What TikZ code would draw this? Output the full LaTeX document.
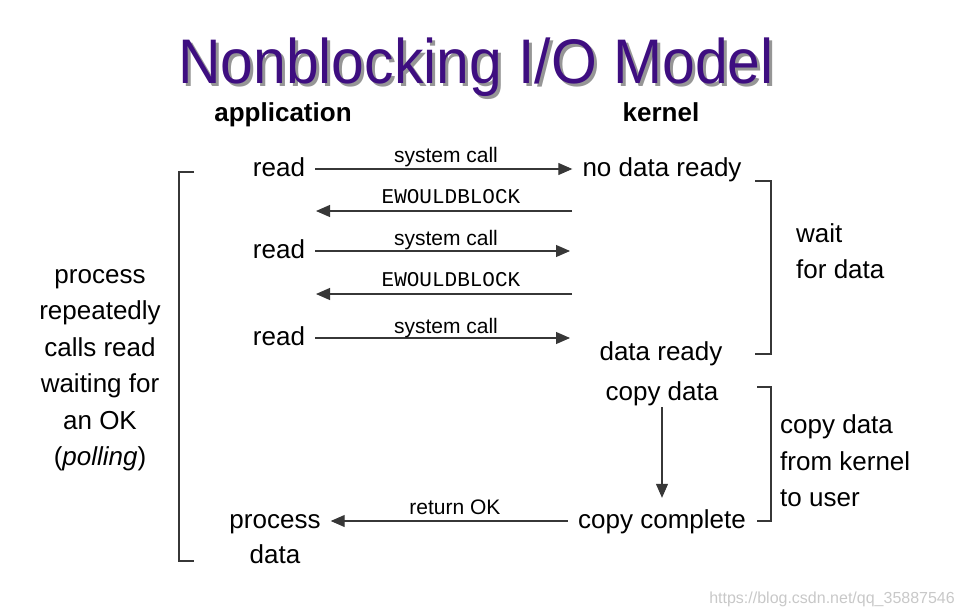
\documentclass[tikz,border=0pt]{standalone}
\usepackage{fontspec}
\setmainfont{Liberation Sans}
\setmonofont{Liberation Mono}
\usetikzlibrary{arrows.meta}
\definecolor{titlepurple}{RGB}{62,14,128}
\definecolor{linegray}{RGB}{55,55,55}
\definecolor{shadowgray}{RGB}{150,150,150}
\definecolor{markgray}{RGB}{200,200,200}
\begin{document}
\begin{tikzpicture}[x=1pt,y=-1pt,
  lbl/.style={font=\fontsize{26}{30}\selectfont, text height=19pt, text depth=5pt, inner xsep=10pt, inner ysep=2pt},
  head/.style={font=\bfseries\fontsize{26}{30}\selectfont, inner sep=0pt, anchor=base},
  small/.style={font=\fontsize{21}{24}\selectfont, inner sep=0pt, anchor=base},
  mono/.style={font=\ttfamily\fontsize{21}{24}\selectfont, inner sep=0pt, anchor=base},
  side/.style={font=\fontsize{26}{36.5}\selectfont, inner sep=0pt},
  titlefont/.style={font=\fontsize{63}{70}\selectfont, inner sep=0pt, anchor=base},
  arr/.style={draw=linegray, line width=1.1pt, -{Triangle[length=14pt,width=12pt]}},
  brk/.style={draw=linegray, line width=1.1pt},
]
\useasboundingbox (0,0) rectangle (964,614);
% title
\node[titlefont, text=shadowgray] (tshadow) at (479,86) {\scalebox{0.935}[1]{Nonblocking I/O Model}};
\node[titlefont, text=titlepurple] (title) at (476,83) {\scalebox{0.935}[1]{Nonblocking I/O Model}};
\node[head] (app) at (283,121) {application};
\node[head] (kern) at (661,121) {kernel};
% application side
\node[lbl] (read1) at (279,169) {read};
\node[lbl] (read2) at (279,251) {read};
\node[lbl] (read3) at (279,338) {read};
\node[lbl] (proc) at (275,521) {process};
\node[lbl] (pdata) at (275,556) {data};
% kernel side
\node[lbl] (ndr) at (662,169) {no data ready};
\node[lbl] (dr) at (661,353) {data ready};
\node[lbl] (cd) at (662,393) {copy data};
\node[lbl] (cc) at (662,521) {copy complete};
% free ends
\coordinate (e1s) at (572,211);
\coordinate (e1t) at (316,211);
\coordinate (s2t) at (570,251);
\coordinate (e2s) at (572,294);
\coordinate (e2t) at (316,294);
\coordinate (s3t) at (570,338);
% arrows
\draw[arr] (read1) -- (ndr);
\draw[arr] (e1s) -- (e1t);
\draw[arr] (read2.east) -- (s2t);
\draw[arr] (e2s) -- (e2t);
\draw[arr] (read3.east) -- (s3t);
\draw[arr, shorten >=9pt] (cd.south) -- (cc.north);
\draw[arr] (cc.west) -- (proc.east);
% arrow labels
\node[small] (sc1) at (446,162) {system call};
\node[mono] (ew1) at (451,203) {EWOULDBLOCK};
\node[small] (sc2) at (446,245) {system call};
\node[mono] (ew2) at (451,286) {EWOULDBLOCK};
\node[small] (sc3) at (446,333) {system call};
\node[small] (rok) at (455,514) {return OK};
% brackets
\draw[brk] (194,172) -- (179,172) -- (179,561) -- (194,561);
\draw[brk] (755,181) -- (771,181) -- (771,354) -- (755,354);
\draw[brk] (757,387) -- (771,387) -- (771,521) -- (757,521);
% side texts
\node[side, align=center] (poll) at (100,370) {process\\repeatedly\\calls read\\waiting for\\an OK\\(\textit{polling})};
\node[side, align=left, anchor=west] (wait) at (796,251) {wait\\for data};
\node[side, align=left, anchor=west] (copy) at (780,461) {copy data\\from kernel\\to user};
% watermark
\node[font=\fontsize{16}{18}\selectfont, text=markgray, inner sep=0pt, anchor=base east] (wm) at (955,603) {https://blog.csdn.net/qq\_35887546};
\end{tikzpicture}
\end{document}
